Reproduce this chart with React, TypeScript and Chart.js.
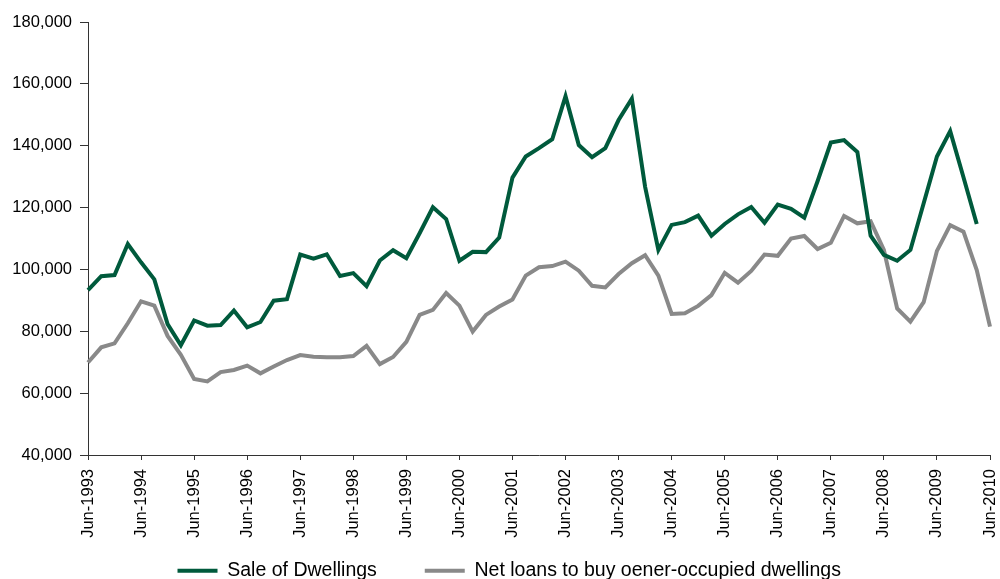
import React, { useEffect, useRef } from "react";
import { Chart, registerables } from "chart.js";

Chart.register(...registerables);

const quarters = [
  "Jun-1993", "Sep-1993", "Dec-1993", "Mar-1994",
  "Jun-1994", "Sep-1994", "Dec-1994", "Mar-1995",
  "Jun-1995", "Sep-1995", "Dec-1995", "Mar-1996",
  "Jun-1996", "Sep-1996", "Dec-1996", "Mar-1997",
  "Jun-1997", "Sep-1997", "Dec-1997", "Mar-1998",
  "Jun-1998", "Sep-1998", "Dec-1998", "Mar-1999",
  "Jun-1999", "Sep-1999", "Dec-1999", "Mar-2000",
  "Jun-2000", "Sep-2000", "Dec-2000", "Mar-2001",
  "Jun-2001", "Sep-2001", "Dec-2001", "Mar-2002",
  "Jun-2002", "Sep-2002", "Dec-2002", "Mar-2003",
  "Jun-2003", "Sep-2003", "Dec-2003", "Mar-2004",
  "Jun-2004", "Sep-2004", "Dec-2004", "Mar-2005",
  "Jun-2005", "Sep-2005", "Dec-2005", "Mar-2006",
  "Jun-2006", "Sep-2006", "Dec-2006", "Mar-2007",
  "Jun-2007", "Sep-2007", "Dec-2007", "Mar-2008",
  "Jun-2008", "Sep-2008", "Dec-2008", "Mar-2009",
  "Jun-2009", "Sep-2009", "Dec-2009", "Mar-2010",
  "Jun-2010",
];

const saleOfDwellings = [
  93300, 97800, 98200, 108200, 102300, 96800, 82300, 75500,
  83500, 81800, 82000, 86700, 81300, 83000, 89900, 90400,
  104800, 103500, 104900, 97900, 98800, 94600, 102900, 106200,
  103600, 111700, 120100, 116300, 102800, 105700, 105600, 110300,
  129700, 136500, 139200, 142100, 156000, 140200, 136300, 139200,
  148300, 155200, 126700, 106300, 114400, 115300, 117400, 110900,
  114700, 117800, 120200, 115100, 121000, 119600, 116700, 128500,
  141000, 141800, 138000, 110900, 104700, 102800, 106300, 121400,
  136500, 144700, 129800, 114700,
];

const netLoans = [
  69900, 74800, 76100, 82600, 89700, 88300, 78500, 72400,
  64600, 63800, 66800, 67500, 68900, 66400, 68600, 70700,
  72300, 71800, 71600, 71600, 72000, 75300, 69400, 71700,
  76600, 85300, 86900, 92400, 88300, 79900, 85300, 88000,
  90300, 98000, 100700, 101100, 102500, 99600, 94700, 94200,
  98500, 102000, 104600, 98000, 85600, 85800, 88200, 91700,
  98900, 95700, 99500, 104800, 104400, 110000, 110800, 106600,
  108600, 117300, 114900, 115600, 106300, 87400, 83100, 89400,
  106000, 114300, 112200, 99800, 81500,
];

const seriesNames = ["Sale of Dwellings", "Net loans to buy oener-occupied dwellings"];
const seriesColors = ["#005a3c", "#898989"];

const Y_MIN = 40000;
const Y_MAX = 180000;
const Y_STEP = 20000;

export default function App() {
  const canvasRef = useRef<HTMLCanvasElement | null>(null);

  useEffect(() => {
    document.body.style.margin = "0";
    const canvas = canvasRef.current;
    if (!canvas) return;
    Chart.defaults.font.family = "'Liberation Sans', Arial, sans-serif";
    Chart.defaults.color = "#000";
    const defaultLabels = Chart.defaults.plugins.legend.labels.generateLabels;

    const chart = new Chart(canvas, {
      type: "line",
      data: {
        labels: quarters,
        datasets: [
          {
            label: seriesNames[0],
            data: saleOfDwellings,
            borderColor: seriesColors[0],
            backgroundColor: seriesColors[0],
            borderWidth: 4,
            pointRadius: 0,
            tension: 0,
          },
          {
            label: seriesNames[1],
            data: netLoans,
            borderColor: seriesColors[1],
            backgroundColor: seriesColors[1],
            borderWidth: 4,
            pointRadius: 0,
            tension: 0,
          },
        ],
      },
      options: {
        animation: false,
        responsive: true,
        maintainAspectRatio: false,
        layout: { padding: { top: 22, right: 10, left: 0, bottom: -11.5 } },
        plugins: {
          tooltip: { enabled: false },
          legend: {
            position: "bottom",
            fullSize: false,
            labels: {
              usePointStyle: true,
              pointStyle: "line",
              pointStyleWidth: 40,
              boxWidth: 40,
              padding: 10,
              color: "#000",
              font: { size: 19.5 },
              generateLabels: (c: any) => {
                const items = defaultLabels(c);
                if (items.length > 0) items[0].text = items[0].text + "       ";
                if (items.length > 1) items[1].text = items[1].text + "           ";
                return items;
              },
            },
          },
        },
        scales: {
          x: {
            type: "category",
            offset: false,
            afterFit: (scale: any) => {
              scale.height = 96;
              scale.paddingRight = 10;
              scale.paddingLeft = 0;
            },
            grid: {
              drawOnChartArea: false,
              drawTicks: true,
              tickLength: 5,
              color: "#333",
            },
            border: { color: "#333", width: 1 },
            ticks: {
              autoSkip: false,
              minRotation: 90,
              maxRotation: 90,
              padding: 9,
              color: "#000",
              font: { size: 16.5 },
              callback: function (this: any, _v: any, index: number) {
                return index % 4 === 0 ? quarters[index] : null;
              },
            },
          },
          y: {
            min: Y_MIN,
            max: Y_MAX,
            afterFit: (scale: any) => {
              scale.width = 88;
            },
            grid: {
              drawOnChartArea: false,
              drawTicks: true,
              tickLength: 8,
              color: "#333",
            },
            border: { color: "#333", width: 1 },
            ticks: {
              stepSize: Y_STEP,
              padding: 8,
              color: "#000",
              font: { size: 16.5 },
              callback: (v: any) => Number(v).toLocaleString("en-US"),
            },
          },
        },
      },
    });
    return () => chart.destroy();
  }, []);

  return (
    <div style={{ position: "fixed", left: 0, top: 0, width: 1000, height: 579 }}>
      <canvas ref={canvasRef} />
    </div>
  );
}
